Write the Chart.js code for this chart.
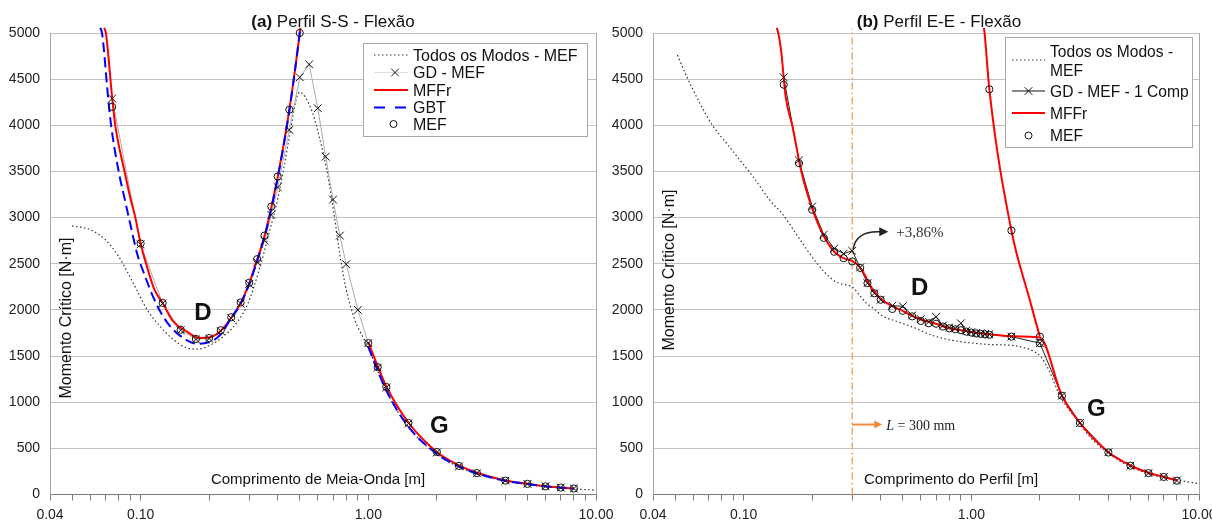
<!DOCTYPE html>
<html><head><meta charset="utf-8">
<script src="https://cdn.jsdelivr.net/npm/chart.js@4.4.0/dist/chart.umd.min.js"></script>
<style>
html,body{margin:0;padding:0;background:#fff;overflow:hidden;width:1212px;height:520px;}
canvas{position:absolute;left:0;top:0;}
</style></head><body>
<canvas id="cA" width="1212" height="520"></canvas>
<canvas id="cB" width="1212" height="520"></canvas>
<script>
// ---------- axis ticks ----------
const X_TICKS = [0.04,0.05,0.06,0.07,0.08,0.09,0.1,0.2,0.3,0.4,0.5,0.6,0.7,0.8,0.9,1,2,3,4,5,6,7,8,9,10];
const X_LABELS = {'0.04':'0.04','0.1':'0.10','1':'1.00','10':'10.00'};
const Y_MIN = 0, Y_MAX = 5000, Y_STEP = 500;

// ---------- (a) Perfil S-S ----------
const A_TODOS_X = [0.05,0.06,0.07,0.08,0.088,0.096,0.107,0.122,0.139,0.159,0.179,0.2025,0.23,0.264,0.296,0.335,0.37,0.4,0.45,0.48,0.5,0.53,0.57,0.614,0.661,0.71,0.752,0.8,0.873,0.95,1.0,1.1,1.2,1.5,2,2.5,3,4,5,6,7,8,10];
const A_TODOS_Y = [2910,2870,2760,2580,2400,2220,2000,1820,1680,1590,1575,1620,1710,1860,2070,2470,2870,3200,3870,4260,4360,4300,4130,3840,3480,3010,2580,2220,1890,1700,1590,1340,1120,730,435,298,222,145,110,85,72,60,48];

const A_GD_X = [0.075,0.1,0.125,0.15,0.175,0.2,0.225,0.25,0.275,0.3,0.325,0.35,0.375,0.4,0.45,0.5,0.55,0.6,0.65,0.7,0.75,0.8,0.9,1.0,1.1,1.2,1.5,2,2.5,3,4,5,6,7,8];
const A_GD_Y = [4290,2710,2070,1780,1680,1690,1770,1910,2070,2280,2515,2750,3030,3330,3950,4520,4660,4185,3660,3195,2805,2495,2000,1640,1375,1160,770,455,305,230,150,115,90,75,65];

const A_MEF_X = [0.075,0.1,0.125,0.15,0.175,0.2,0.225,0.25,0.275,0.3,0.325,0.35,0.375,0.4,0.45,0.5,1.0,1.1,1.2,1.5,2,2.5,3,4,5,6,7,8];
const A_MEF_Y = [4200,2720,2075,1785,1685,1695,1780,1920,2080,2295,2550,2805,3120,3445,4170,5000,1640,1380,1165,775,460,310,232,150,115,88,75,65];

const A_MFFR_D_X = [0.0692,0.0704,0.075,0.0774,0.085,0.0906,0.0948,0.1,0.1066,0.115,0.125,0.139,0.159,0.182,0.2,0.225,0.25,0.275,0.3,0.325,0.35,0.375,0.4,0.45,0.5,0.503];
const A_MFFR_D_Y = [5055,5000,4300,4000,3500,3190,3000,2720,2470,2220,2074,1875,1767,1695,1700,1775,1915,2075,2290,2545,2800,3110,3440,4170,5000,5055];
const A_MFFR_G_X = [1.0,1.1,1.2,1.5,2,2.5,3,4,5,6,7,8];
const A_MFFR_G_Y = [1650,1390,1170,780,460,315,235,152,116,90,76,65];

const A_GBT_D_X = [0.0665,0.0677,0.072,0.0742,0.0801,0.0853,0.0906,0.0964,0.1047,0.1133,0.123,0.1368,0.154,0.176,0.199,0.224,0.25,0.275,0.3,0.325,0.35,0.375,0.4,0.45,0.5,0.503];
const A_GBT_D_Y = [5055,5000,4300,4000,3500,3192,2903,2615,2362,2146,1966,1804,1695,1634,1648,1731,1912,2065,2280,2530,2790,3100,3430,4160,5000,5055];
const A_GBT_G_X = [1.0,1.1,1.2,1.5,2,2.5,3,4,5,6,7,8];
const A_GBT_G_Y = [1600,1340,1125,735,440,305,228,148,113,88,74,63];

// ---------- (b) Perfil E-E ----------
const B_TODOS_X = [0.0512,0.0563,0.0643,0.0736,0.0842,0.0962,0.110,0.130,0.149,0.176,0.209,0.25,0.27,0.30,0.32,0.346,0.37,0.41,0.465,0.55,0.67,0.818,0.994,1.21,1.47,1.68,1.85,2.02,2.19,2.46,2.79,3.3,4.0,4.81,5.86,7.14,8.69,10];
const B_TODOS_Y = [4761,4526,4238,3985,3805,3625,3444,3192,3030,2770,2510,2315,2280,2250,2170,2074,2020,1930,1880,1816,1726,1672,1643,1625,1618,1595,1560,1492,1348,1060,866,631,448,322,232,178,142,117];

const B_GD_X = [0.15,0.175,0.2,0.225,0.25,0.275,0.3,0.325,0.35,0.375,0.4,0.45,0.5,0.55,0.6,0.65,0.7,0.75,0.8,0.85,0.9,0.95,1.0,1.05,1.1,1.15,1.2,1.5,2.0,2.5,3,4,5,6,7,8];
const B_GD_Y = [4520,3620,3120,2815,2665,2610,2640,2460,2290,2180,2110,2045,2040,1940,1900,1870,1925,1830,1810,1800,1855,1775,1760,1750,1745,1740,1735,1710,1640,1070,775,458,312,232,190,152];

const B_MEF_X = [0.15,0.175,0.2,0.225,0.25,0.275,0.3,0.325,0.35,0.375,0.4,0.45,0.5,0.55,0.6,0.65,0.7,0.75,0.8,0.85,0.9,0.95,1.0,1.05,1.1,1.15,1.2,1.5,2.0,2.0,1.2,1.5,2.5,3,4,5,6,7,8];
const B_MEF_Y = [4440,3590,3085,2780,2630,2560,2525,2455,2290,2180,2110,2010,1990,1930,1880,1855,1850,1820,1800,1790,1780,1765,1755,1745,1740,1735,1730,1710,1710,1640,4390,2860,1070,775,455,312,232,190,150];

const B_MFFR_X = [0.1395,0.141,0.146,0.153,0.164,0.18,0.2,0.225,0.25,0.275,0.3,0.32,0.34,0.36,0.4,0.45,0.5,0.55,0.6,0.7,0.8,0.9,1.0,1.2,1.5,2.0,2.5,3,4,5,6,7,8];
const B_MFFR_Y = [5055,5030,4815,4310,3985,3480,3100,2800,2630,2560,2530,2480,2380,2260,2120,2040,1990,1935,1895,1850,1800,1780,1760,1735,1715,1700,1071,776,458,314,235,192,152];
const B_MFFR2_X = [1.135,1.14,1.2,1.5,1.8,2.0];
const B_MFFR2_Y = [5055,5030,4390,2860,2120,1710];

const B_L300_X = [0.3,0.3];
const B_L300_Y = [0,5050];

// ---------- helpers ----------
const FONT = '"Liberation Sans", Arial, sans-serif';
const SERIF = '"Liberation Serif", "Times New Roman", serif';
Chart.defaults.font.family = FONT;
const pts = (xs, ys) => xs.map((x, i) => ({x: x, y: ys[i]}));

function lineDS(xs, ys, color, width, dash, order, extra) {
  return Object.assign({data: pts(xs, ys), borderColor: color, borderWidth: width, borderDash: dash || [],
    pointRadius: 0, fill: false, order: order, cubicInterpolationMode: 'monotone', clip: false}, extra || {});
}
function crossDS(xs, ys, order) {
  return {data: pts(xs, ys), showLine: false, pointStyle: 'crossRot', pointRadius: 5.5, pointBorderWidth: 1,
    pointBorderColor: '#111', pointBackgroundColor: 'rgba(0,0,0,0)', order: order, clip: false};
}
function circleDS(xs, ys, order) {
  return {data: pts(xs, ys), showLine: false, pointStyle: 'circle', pointRadius: 3.6, pointBorderWidth: 1,
    pointBorderColor: '#111', pointBackgroundColor: 'rgba(0,0,0,0)', order: order, clip: false};
}

function drawTitle(ctx, boldPart, rest, cx, baseY) {
  ctx.textBaseline = 'alphabetic'; ctx.textAlign = 'left'; ctx.fillStyle = '#111';
  ctx.font = 'bold 17px ' + FONT; const w1 = ctx.measureText(boldPart).width;
  ctx.font = '17px ' + FONT; const w2 = ctx.measureText(rest).width;
  const x0 = cx - (w1 + w2) / 2;
  ctx.font = 'bold 17px ' + FONT; ctx.fillText(boldPart, x0, baseY);
  ctx.font = '17px ' + FONT; ctx.fillText(rest, x0 + w1, baseY);
}
function drawCross(ctx, x, y, r) {
  ctx.beginPath(); ctx.moveTo(x - r, y - r); ctx.lineTo(x + r, y + r);
  ctx.moveTo(x - r, y + r); ctx.lineTo(x + r, y - r); ctx.stroke();
}
function sampleLine(ctx, x1, x2, y, color, width, dash) {
  ctx.save(); ctx.strokeStyle = color; ctx.lineWidth = width; ctx.setLineDash(dash || []);
  ctx.beginPath(); ctx.moveTo(x1, y); ctx.lineTo(x2, y); ctx.stroke(); ctx.restore();
}
function legendBox(ctx, x, y, w, h) {
  ctx.save(); ctx.fillStyle = '#fff'; ctx.fillRect(x, y, w, h);
  ctx.strokeStyle = '#a8a8a8'; ctx.lineWidth = 1; ctx.strokeRect(x + 0.5, y + 0.5, w, h); ctx.restore();
}
function legendText(ctx, txt, x, cy, size) {
  const s = size || 16;
  ctx.font = s + 'px ' + FONT; ctx.fillStyle = '#111'; ctx.textAlign = 'left'; ctx.textBaseline = 'alphabetic';
  ctx.fillText(txt, x, cy + 0.36 * s);
}
function bigLetter(ctx, ch, x, y) {
  ctx.font = 'bold 24px ' + FONT; ctx.fillStyle = '#111'; ctx.textAlign = 'center'; ctx.textBaseline = 'alphabetic';
  ctx.fillText(ch, x, y + 8.6);
}
function rotText(ctx, txt, x, y, size) {
  ctx.save(); ctx.translate(x, y); ctx.rotate(-Math.PI / 2);
  ctx.font = size + 'px ' + FONT; ctx.fillStyle = '#111'; ctx.textAlign = 'center'; ctx.textBaseline = 'middle';
  ctx.fillText(txt, 0, 0); ctx.restore();
}

function makeChart(id, datasets, padL, padR, yWidth, decorate) {
  return new Chart(document.getElementById(id), {
    type: 'line',
    data: {datasets: datasets},
    options: {
      responsive: false, animation: false, events: [],
      layout: {padding: {left: padL, right: padR, top: 33, bottom: 0}},
      plugins: {legend: {display: false}, title: {display: false}, tooltip: {enabled: false}},
      scales: {
        x: {
          type: 'logarithmic', position: 'bottom', min: 0.04, max: 10,
          afterBuildTicks: s => { s.ticks = X_TICKS.map(v => ({value: v})); },
          afterFit: s => { s.height = 25.5; s.paddingLeft = 0; s.paddingRight = 0; },
          ticks: {autoSkip: false, maxRotation: 0, minRotation: 0, padding: 6, color: '#222',
            font: {size: 14, family: FONT},
            callback: v => (X_LABELS[String(v)] !== undefined ? X_LABELS[String(v)] : '')},
          grid: {drawOnChartArea: false, drawTicks: true, tickLength: 6, color: '#7a7a7a'},
          border: {display: true, color: '#7a7a7a', width: 1}
        },
        y: {
          type: 'linear', position: 'left', min: Y_MIN, max: Y_MAX,
          afterFit: s => { s.width = yWidth; s.paddingTop = 0; s.paddingBottom = 0; },
          ticks: {stepSize: Y_STEP, padding: 10, color: '#222', font: {size: 14, family: FONT},
            callback: v => String(v)},
          grid: {drawTicks: false, color: '#c2c2c2', lineWidth: 1},
          border: {display: true, color: '#a8a8a8', width: 1}
        }
      }
    },
    plugins: [{id: 'deco', afterDraw(chart) { decorate(chart); }}]
  });
}

// ---------- chart (a) ----------
makeChart('cA', [
  lineDS(A_TODOS_X, A_TODOS_Y, '#333', 1.2, [1.5, 2.5], 7),
  lineDS(A_GD_X, A_GD_Y, '#adadad', 1, [], 6, {cubicInterpolationMode: 'default', tension: 0}),
  lineDS(A_MFFR_D_X, A_MFFR_D_Y, '#ff0000', 2, [], 4),
  lineDS(A_MFFR_G_X, A_MFFR_G_Y, '#ff0000', 2, [], 4),
  lineDS(A_GBT_D_X, A_GBT_D_Y, '#0000ff', 2, [10, 5], 3),
  lineDS(A_GBT_G_X, A_GBT_G_Y, '#0000ff', 2, [10, 5], 3),
  crossDS(A_GD_X, A_GD_Y, 1),
  circleDS(A_MEF_X, A_MEF_Y, 0)
], 0, 616, 50, chart => {
  const ctx = chart.ctx, xs = chart.scales.x, ys = chart.scales.y, a = chart.chartArea;
  ctx.save();
  ctx.strokeStyle = '#a8a8a8'; ctx.lineWidth = 1;
  ctx.beginPath(); ctx.moveTo(a.right + 0.5, a.top); ctx.lineTo(a.right + 0.5, a.bottom); ctx.stroke();
  drawTitle(ctx, '(a)', ' Perfil S-S - Flexão', 333, 27);
  ctx.font = '15px ' + FONT; ctx.fillStyle = '#111'; ctx.textAlign = 'center'; ctx.textBaseline = 'alphabetic';
  ctx.fillText('Comprimento de Meia-Onda [m]', 318, 483.5);
  rotText(ctx, 'Momento Crítico [N·m]', 67, 318, 16);
  bigLetter(ctx, 'D', xs.getPixelForValue(0.188), ys.getPixelForValue(1981));
  bigLetter(ctx, 'G', xs.getPixelForValue(2.05), ys.getPixelForValue(758));
  // legend
  legendBox(ctx, 363, 43, 224, 93);
  sampleLine(ctx, 374, 408, 55, '#333', 1.2, [1.5, 2.5]);
  legendText(ctx, 'Todos os Modos - MEF', 413, 55);
  sampleLine(ctx, 374, 408, 72.5, '#e0e0e0', 1, []);
  ctx.strokeStyle = '#111'; ctx.lineWidth = 1; drawCross(ctx, 395, 72.5, 3.8);
  legendText(ctx, 'GD - MEF', 413, 72.5);
  sampleLine(ctx, 374, 408, 90, '#ff0000', 2, []);
  legendText(ctx, 'MFFr', 413, 90);
  sampleLine(ctx, 374, 408, 107.5, '#0000ff', 2, [11, 10]);
  legendText(ctx, 'GBT', 413, 107.5);
  ctx.strokeStyle = '#111'; ctx.lineWidth = 1;
  ctx.beginPath(); ctx.arc(393.5, 124, 3.5, 0, Math.PI * 2); ctx.stroke();
  legendText(ctx, 'MEF', 413, 124.5);
  ctx.restore();
});

// ---------- chart (b) ----------
makeChart('cB', [
  lineDS(B_L300_X, B_L300_Y, '#f5a76c', 1.5, [7, 3, 2, 3], 9, {cubicInterpolationMode: 'default', tension: 0}),
  lineDS(B_TODOS_X, B_TODOS_Y, '#333', 1.2, [1.5, 2.5], 8),
  lineDS(B_GD_X, B_GD_Y, '#222', 1, [], 6, {cubicInterpolationMode: 'default', tension: 0}),
  lineDS(B_MFFR_X, B_MFFR_Y, '#ff0000', 2, [], 4),
  lineDS(B_MFFR2_X, B_MFFR2_Y, '#ff0000', 2, [], 4),
  crossDS(B_GD_X, B_GD_Y, 1),
  circleDS(B_MEF_X, B_MEF_Y, 0)
], 606, 13, 47, chart => {
  const ctx = chart.ctx, xs = chart.scales.x, ys = chart.scales.y, a = chart.chartArea;
  ctx.save();
  ctx.strokeStyle = '#a8a8a8'; ctx.lineWidth = 1;
  ctx.beginPath(); ctx.moveTo(a.right + 0.5, a.top); ctx.lineTo(a.right + 0.5, a.bottom); ctx.stroke();
  drawTitle(ctx, '(b)', ' Perfil E-E - Flexão', 939, 27);
  ctx.font = '15px ' + FONT; ctx.fillStyle = '#111'; ctx.textAlign = 'center'; ctx.textBaseline = 'alphabetic';
  ctx.fillText('Comprimento do Perfil [m]', 951, 483.5);
  rotText(ctx, 'Momento Crítico [N·m]', 670, 270, 16);
  bigLetter(ctx, 'D', xs.getPixelForValue(0.593), ys.getPixelForValue(2254));
  bigLetter(ctx, 'G', xs.getPixelForValue(3.54), ys.getPixelForValue(942));
  // +3,86% annotation with curved arrow
  const x0 = xs.getPixelForValue(0.3);
  const yA = ys.getPixelForValue(2640);
  ctx.strokeStyle = '#222'; ctx.fillStyle = '#222'; ctx.lineWidth = 1.5;
  ctx.beginPath(); ctx.moveTo(x0 + 1, yA - 2); ctx.quadraticCurveTo(x0 + 4, yA - 20, x0 + 28, yA - 19); ctx.stroke();
  ctx.beginPath(); ctx.moveTo(x0 + 27, yA - 23.5); ctx.lineTo(x0 + 36, yA - 19); ctx.lineTo(x0 + 27, yA - 14.5); ctx.closePath(); ctx.fill();
  ctx.font = '15px ' + SERIF; ctx.fillStyle = '#333'; ctx.textAlign = 'left'; ctx.textBaseline = 'alphabetic';
  ctx.fillText('+3,86%', x0 + 44, yA - 13.5);
  // L = 300 mm
  const yL = ys.getPixelForValue(758);
  ctx.strokeStyle = '#ef8a3c'; ctx.fillStyle = '#ef8a3c'; ctx.lineWidth = 2;
  ctx.beginPath(); ctx.moveTo(x0, yL); ctx.lineTo(x0 + 23, yL); ctx.stroke();
  ctx.beginPath(); ctx.moveTo(x0 + 22, yL - 4); ctx.lineTo(x0 + 30, yL); ctx.lineTo(x0 + 22, yL + 4); ctx.closePath(); ctx.fill();
  ctx.fillStyle = '#222'; ctx.font = 'italic 14px ' + SERIF;
  const lx = x0 + 34; ctx.fillText('L', lx, yL + 5);
  const lw = ctx.measureText('L').width;
  ctx.font = '14px ' + SERIF; ctx.fillText(' = 300 mm', lx + lw, yL + 5);
  // legend
  legendBox(ctx, 1005, 37, 187, 110);
  sampleLine(ctx, 1012, 1045, 60, '#333', 1.2, [1.5, 2.5]);
  legendText(ctx, 'Todos os Modos -', 1050, 51.5, 15.6);
  legendText(ctx, 'MEF', 1050, 70, 15.6);
  sampleLine(ctx, 1012, 1045, 91, '#111', 1, []);
  ctx.strokeStyle = '#111'; ctx.lineWidth = 1; drawCross(ctx, 1028.5, 91, 3.8);
  legendText(ctx, 'GD - MEF - 1 Comp', 1050, 91, 15.6);
  sampleLine(ctx, 1012, 1045, 113, '#ff0000', 2, []);
  legendText(ctx, 'MFFr', 1050, 113, 15.6);
  ctx.strokeStyle = '#111'; ctx.lineWidth = 1;
  ctx.beginPath(); ctx.arc(1028.5, 135.5, 3.5, 0, Math.PI * 2); ctx.stroke();
  legendText(ctx, 'MEF', 1050, 135, 15.6);
  ctx.restore();
});
</script>
</body></html>
